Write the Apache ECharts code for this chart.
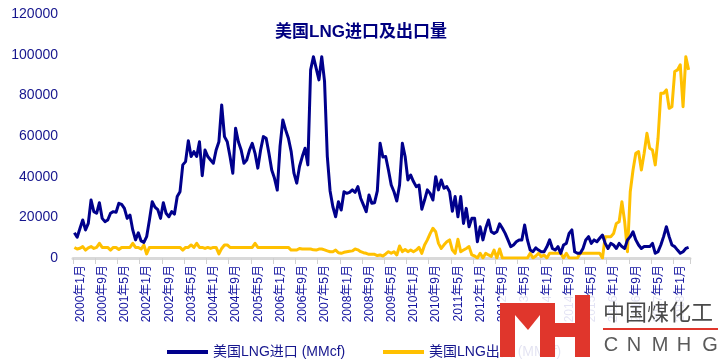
<!DOCTYPE html>
<html><head><meta charset="utf-8">
<script src="https://cdn.jsdelivr.net/npm/echarts@6/dist/echarts.min.js"></script>
<style>html,body{margin:0;padding:0;background:#fff}#c{width:721px;height:364px}</style>
</head><body><div id="c"></div>
<script>
// Monthly categories: 2000年1月 .. 2018年6月
const startYear = 2000;
const monthCount = 222;
const categories = [];
for (let k = 0; k < monthCount; k++) {
  categories.push((startYear + Math.floor(k / 12)) + '年' + (k % 12 + 1) + '月');
}
const seriesNames = ['美国LNG进口 (MMcf)', '美国LNG出口 (MMcf)'];
const yTicks = [0, 20000, 40000, 60000, 80000, 100000, 120000];

// 美国LNG进口 (MMcf), one row per year
const importData = [
  12400, 10200, 14500, 18700, 13800, 17000, 28500, 22800, 22000, 27200, 19500, 17900,
  18700, 22000, 22800, 22500, 26900, 26400, 24400, 19500, 21100, 13800, 8900, 12400,
  8400, 7700, 10500, 18700, 27700, 25000, 23800, 19500, 27200, 22000, 20300, 22800,
  21600, 30200, 32600, 45800, 47400, 57700, 49900, 52300, 49900, 57200, 40500, 53100,
  49900, 48200, 46600, 53100, 57200, 75300, 59700, 57200, 49900, 41700, 63800, 57200,
  53100, 46600, 48200, 53100, 56400, 51500, 44200, 53100, 59700, 58900, 51500, 43300,
  39200, 33400, 55000, 67900, 63000, 58900, 52300, 41700, 36800, 45000, 49900, 54000,
  45800, 92500, 99000, 93300, 87600, 99000, 87000, 50000, 33000, 25200, 20300, 27700,
  23600, 32600, 31800, 32300, 33500, 32300, 35100, 29400, 26100, 22800, 31000, 26900,
  27200, 33000, 56400, 49700, 49900, 43300, 35900, 32600, 28000, 35900, 56400, 49900,
  38400, 40800, 37600, 35100, 35900, 24000, 28500, 33500, 31800, 28500, 40000, 33500,
  38400, 34300, 35100, 32600, 23000, 30200, 20300, 30200, 17000, 24400, 15400, 19500,
  19500, 8000, 15400, 8900, 14600, 18700, 12900, 12100, 12900, 16800, 14600, 12100,
  8900, 5600, 6400, 8000, 8900, 8900, 16200, 8900, 3900, 3100, 5000, 3900,
  3100, 3100, 5500, 8900, 4700, 3900, 5600, 2300, 6400, 7200, 12100, 13800,
  3100, 2300, 2300, 4700, 8900, 10500, 7200, 8900, 8000, 9700, 11300, 7200,
  4700, 7200, 6400, 4700, 7200, 5600, 4700, 8900, 10500, 12900, 8900, 6400,
  4700, 5600, 5600, 5600, 7200, 2300, 3100, 6400, 10500, 15400, 10500, 6400,
  5600, 3900, 2300, 3100, 4700, 5200
];

// 美国LNG出口 (MMcf), one row per year
const exportData = [
  5200, 4400, 4800, 5600, 3900, 5000, 5600, 4700, 5200, 7200, 5200, 5200,
  5200, 3900, 5200, 5200, 4200, 5200, 5200, 5200, 5200, 7200, 5200, 5200,
  4400, 6400, 2000, 5200, 5200, 5200, 5200, 5200, 5200, 5200, 5200, 5200,
  5200, 5200, 5200, 3900, 5200, 5200, 6400, 5200, 7200, 5200, 5200, 4700,
  5200, 4700, 5200, 5200, 2000, 4700, 6400, 6400, 5200, 5200, 5200, 5200,
  5200, 5200, 5200, 5200, 5200, 7200, 5200, 5200, 5200, 5200, 5200, 5200,
  5200, 5200, 5200, 5200, 5200, 5200, 3900, 3900, 3900, 4700, 4400, 4400,
  4400, 4400, 4000, 3900, 4400, 4400, 4000, 3500, 3100, 3100, 3900, 2600,
  2300, 2800, 3100, 3300, 3500, 4400, 4000, 3100, 2600, 2300, 1800, 1800,
  1800, 1200, 1500, 1000, 2000, 3100, 2300, 3100, 1500, 5900, 3100, 4200,
  3100, 3900, 3100, 3900, 5200, 2300, 6400, 8900, 12000, 14600, 12900, 7200,
  4700, 6500, 8000, 8900, 3900, 2300, 9200, 3100, 3900, 4700, 5600, 1500,
  1000, 0, 2300, 0, 2300, 1500, 800, 3900, 0, 4400, 0, 0,
  0, 0, 0, 0, 0, 0, 0, 0, 2300, 0, 1000, 2300,
  700, 1500, 0, 2300, 2300, 2300, 2300, 2300, 0, 2300, 0, 0,
  0, 0, 2300, 2300, 2300, 2300, 2300, 2300, 2300, 2300, 0, 10500,
  10500, 10500, 12000, 17000, 17800, 27700, 17800, 3100, 32600, 43300, 51500, 52300,
  43300, 51500, 61300, 54000, 53100, 45800, 58900, 81000, 81000, 82700, 73600, 74400,
  91700, 92500, 95000, 74400, 99000, 92500
];

const navy = '#00008C';
const gold = '#FFC000';
const txt = '#16168E';
const red = '#E0362C';
const fontLat = '"Liberation Sans", Arial, "Noto Sans CJK SC", sans-serif';

const chart = echarts.init(document.getElementById('c'), null, {renderer: 'canvas'});
chart.setOption({
  animation: false,
  backgroundColor: '#ffffff',
  title: {
    text: '美国LNG进口及出口量',
    left: 270,
    top: 19,
    textStyle: {color: '#000080', fontSize: 17, fontWeight: 'bold', fontFamily: fontLat}
  },
  legend: [
    {data: [seriesNames[0]], left: 162, top: 340, icon: 'rect', itemWidth: 41, itemHeight: 4,
     textStyle: {color: txt, fontSize: 14, fontFamily: fontLat}},
    {data: [seriesNames[1]], left: 378, top: 340, icon: 'rect', itemWidth: 41, itemHeight: 4,
     textStyle: {color: txt, fontSize: 14, fontFamily: fontLat}}
  ],
  grid: {left: 73, right: 31, top: 14, bottom: 106, containLabel: false},
  xAxis: {
    type: 'category',
    data: categories,
    boundaryGap: true,
    axisLine: {lineStyle: {color: '#d9d9d9', width: 3}},
    axisTick: {show: true, interval: 7, length: 6, lineStyle: {color: '#d0d0d0', width: 1}},
    axisLabel: {interval: 7, rotate: 90, fontSize: 12, color: '#1414A0', margin: 7,
                fontFamily: fontLat, verticalAlign: 'top'},
    splitLine: {show: false}
  },
  yAxis: {
    type: 'value',
    min: yTicks[0],
    max: yTicks[yTicks.length - 1],
    interval: 20000,
    axisLine: {show: false},
    axisTick: {show: false},
    splitLine: {show: false},
    axisLabel: {color: txt, fontSize: 14, margin: 15, fontFamily: fontLat,
                formatter: function (v) { return String(v); }}
  },
  series: [
    {name: seriesNames[0], type: 'line', data: importData, showSymbol: false, symbol: 'none',
     itemStyle: {color: navy}, lineStyle: {color: navy, width: 3, join: 'round'}, z: 3},
    {name: seriesNames[1], type: 'line', data: exportData, showSymbol: false, symbol: 'none',
     itemStyle: {color: gold}, lineStyle: {color: gold, width: 3, join: 'round'}, z: 2}
  ],
  graphic: [
    {type: 'rect', z: 100, shape: {x: 500, y: 296, width: 221, height: 68}, style: {fill: 'rgba(255,255,255,0.88)'}},
    {type: 'rect', z: 101, shape: {x: 500, y: 303, width: 15, height: 54}, style: {fill: red}},
    {type: 'rect', z: 101, shape: {x: 500, y: 303, width: 55, height: 12}, style: {fill: red}},
    {type: 'polygon', z: 101, shape: {points: [[515, 315], [540, 315], [528, 330]]}, style: {fill: red}},
    {type: 'rect', z: 101, shape: {x: 540, y: 303, width: 15, height: 54}, style: {fill: red}},
    {type: 'rect', z: 101, shape: {x: 555, y: 323, width: 21, height: 14}, style: {fill: red}},
    {type: 'rect', z: 101, shape: {x: 575, y: 295, width: 15, height: 62}, style: {fill: red}},
    {type: 'text', z: 101, style: {text: '中国煤化工', x: 603, y: 301, fill: '#4a4a4a', font: '22px "Noto Sans CJK SC"'}},
    {type: 'rect', z: 101, shape: {x: 603, y: 328, width: 115, height: 2}, style: {fill: red}},
    {type: 'text', z: 101, style: {text: 'C', x: 611, y: 345, fill: '#5a5a5a', align: 'center', verticalAlign: 'middle', font: '20px "Liberation Sans"'}},
    {type: 'text', z: 101, style: {text: 'N', x: 634, y: 345, fill: '#5a5a5a', align: 'center', verticalAlign: 'middle', font: '20px "Liberation Sans"'}},
    {type: 'text', z: 101, style: {text: 'M', x: 660, y: 345, fill: '#5a5a5a', align: 'center', verticalAlign: 'middle', font: '20px "Liberation Sans"'}},
    {type: 'text', z: 101, style: {text: 'H', x: 684, y: 345, fill: '#5a5a5a', align: 'center', verticalAlign: 'middle', font: '20px "Liberation Sans"'}},
    {type: 'text', z: 101, style: {text: 'G', x: 710, y: 345, fill: '#5a5a5a', align: 'center', verticalAlign: 'middle', font: '20px "Liberation Sans"'}}
  ]
});
</script>
</body></html>
